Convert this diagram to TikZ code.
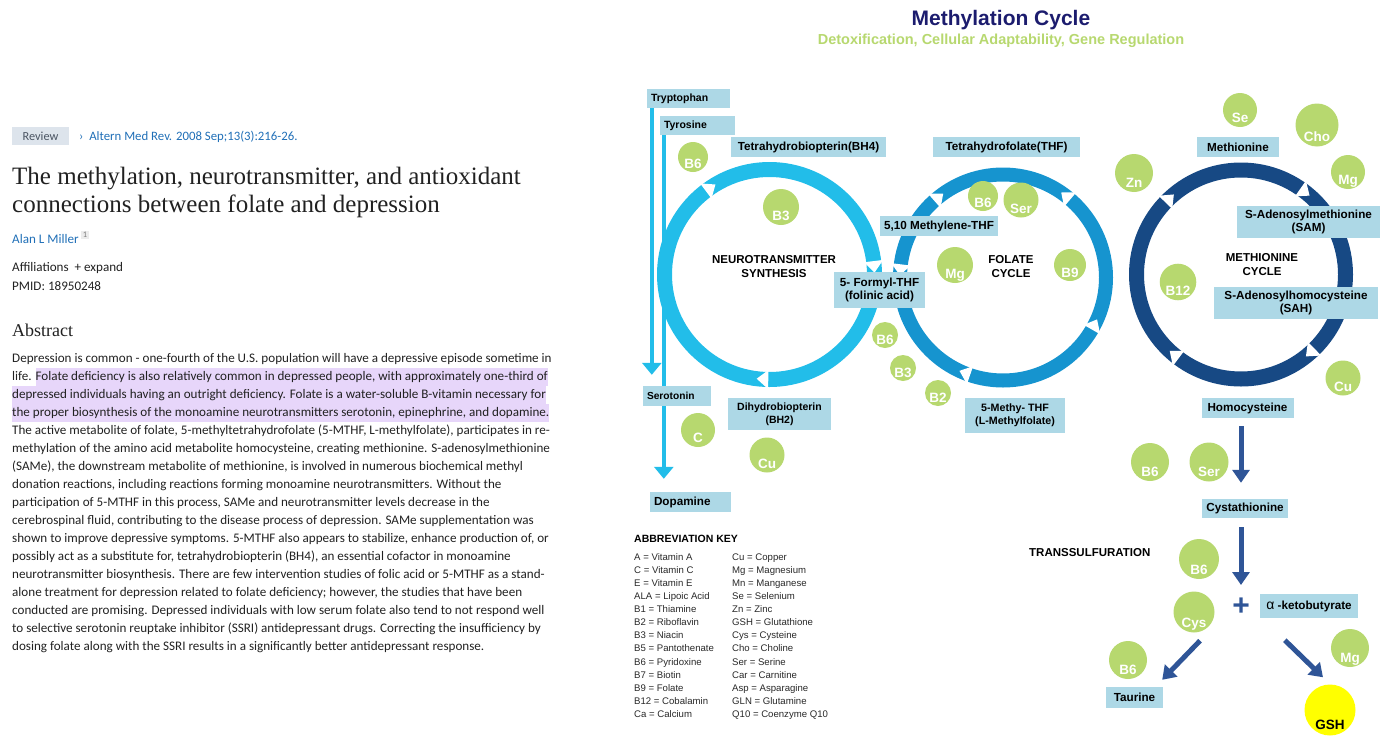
\documentclass[tikz,border=0pt]{standalone}
\usepackage{fontspec}
\setmainfont{Liberation Sans}
\newfontfamily\uifont{Carlito}
\newfontfamily\pmserif{Liberation Serif}
\usetikzlibrary{positioning}
\usetikzlibrary{arrows.meta}
\usetikzlibrary{calc}
\usetikzlibrary{backgrounds}
\definecolor{boxblue}{RGB}{173,216,230}
\definecolor{vgreen}{RGB}{183,216,111}
\definecolor{ntblue}{RGB}{34,189,233}
\definecolor{flblue}{RGB}{22,148,207}
\definecolor{mtblue}{RGB}{23,73,132}
\definecolor{dblue}{RGB}{47,85,151}
\definecolor{navy}{RGB}{28,28,110}
\definecolor{hilite}{RGB}{231,214,250}
\definecolor{linkblue}{RGB}{32,111,183}
\definecolor{revgray}{RGB}{221,228,236}
\definecolor{revtext}{RGB}{75,85,99}
\definecolor{bodytext}{RGB}{33,33,33}
\definecolor{keytext}{RGB}{40,40,40}
\definecolor{supgray}{RGB}{236,236,236}
\definecolor{gshyellow}{RGB}{255,255,0}
\tikzset{
  ui/.style={inner sep=0pt,anchor=base west,text=bodytext,font=\uifont\fontsize{13.1}{15}\selectfont},
  hl/.style={fill=hilite,text height=12pt,text depth=6pt},
  keybox/.style={fill=boxblue,inner sep=0pt,align=center,font=\bfseries\fontsize{11.7}{13.5}\selectfont},
  vit/.style={circle,fill=vgreen,text=white,inner sep=0pt,minimum size=2*#1,
              text height=1.5*#1pt,text depth=0pt,font=\bfseries\fontsize{13.5}{14}\selectfont},
  cyclbl/.style={align=center,inner sep=0pt,font=\bfseries\fontsize{11.5}{14}\selectfont},
  abbr/.style={anchor=base west,inner sep=0pt,text=keytext,font=\fontsize{9.6}{11}\selectfont},
  ntarrow/.style={draw=ntblue,line width=3.5pt,-{Triangle[width=19pt,length=12pt]}},
  sularrow/.style={draw=dblue,line width=5pt,-{Triangle[width=17pt,length=13pt]}}
}
% white tip cut into a ring: centre, angle, radius, direction
\newcommand{\ringtip}[4]{%
  \fill[white] ($(#1)+({#2}:{#3-9})$) -- ($(#1)+({#2}:{#3+9})$) -- ($(#1)+({#2+#4*6}:{#3})$) -- cycle;
  \draw[white,line width=1.2pt] ($(#1)+({#2}:{#3-9})$) -- ($(#1)+({#2}:{#3+9})$);
}

\begin{document}
\begin{tikzpicture}[x=1pt,y=-1pt]
  \useasboundingbox (0,0) rectangle (1392,747);

  % ---------------- article column ----------------
  \node[fill=revgray,text=revtext,font=\uifont\fontsize{12.3}{13}\selectfont,
        minimum width=57pt,minimum height=18pt,inner sep=0pt] (review) at (40.5,136) {Review};
  \node[ui,text=linkblue,font=\uifont\fontsize{12.8}{14}\selectfont] (journal) at (79,140)
    {›\ \ Altern Med Rev. 2008 Sep;13(3):216-26.};

  \node[ui,font=\pmserif\fontsize{25}{28}\selectfont] (title1) at (12,184)
    {The methylation, neurotransmitter, and antioxidant};
  \node[ui,font=\pmserif\fontsize{25}{28}\selectfont] (title2) at (12,212)
    {connections between folate and depression};

  \node[ui,text=linkblue] (author) at (12,243) {Alan L Miller};
  \node[fill=supgray,text=gray,font=\uifont\fontsize{8.5}{8}\selectfont,inner sep=1.5pt] (affnum) at (85,235) {1};
  \node[ui] (affil) at (12,271) {Affiliations\ \ +\ expand};
  \node[ui] (pmid) at (12,290) {PMID: 18950248};

  \node[ui,font=\pmserif\fontsize{18}{20}\selectfont] (abshead) at (12,336) {Abstract};

  % abstract, lines 1-4 (highlighted part)
  \node[ui] (abs1) at (12,362)
    {Depression is common - one-fourth of the U.S. population will have a depressive episode sometime in};
  \node[ui] (abs2) at (12,380) {life.};
  \node[ui,hl,base right=3.5pt of abs2] (abs2b)
    {Folate deficiency is also relatively common in depressed people, with approximately one-third of};
  \node[ui,hl] (abs3) at (12,398)
    {depressed individuals having an outright deficiency. Folate is a water-soluble B-vitamin necessary for};
  \node[ui,hl] (abs4) at (12,416)
    {the proper biosynthesis of the monoamine neurotransmitters serotonin, epinephrine, and dopamine.};
  % abstract, remaining lines
  \foreach \line [count=\i from 5] in {
    {The active metabolite of folate, 5-methyltetrahydrofolate (5-MTHF, L-methylfolate), participates in re-},
    {methylation of the amino acid metabolite homocysteine, creating methionine. S-adenosylmethionine},
    {(SAMe), the downstream metabolite of methionine, is involved in numerous biochemical methyl},
    {donation reactions, including reactions forming monoamine neurotransmitters. Without the},
    {participation of 5-MTHF in this process, SAMe and neurotransmitter levels decrease in the},
    {cerebrospinal fluid, contributing to the disease process of depression. SAMe supplementation was},
    {shown to improve depressive symptoms. 5-MTHF also appears to stabilize, enhance production of, or},
    {possibly act as a substitute for, tetrahydrobiopterin (BH4), an essential cofactor in monoamine},
    {neurotransmitter biosynthesis. There are few intervention studies of folic acid or 5-MTHF as a stand-},
    {alone treatment for depression related to folate deficiency; however, the studies that have been},
    {conducted are promising. Depressed individuals with low serum folate also tend to not respond well},
    {to selective serotonin reuptake inhibitor (SSRI) antidepressant drugs. Correcting the insufficiency by},
    {dosing folate along with the SSRI results in a significantly better antidepressant response.}}
    \node[ui] (abs\i) at (12,{362+18*(\i-1)}) {\line};

  % ---------------- diagram ----------------
  \node[text=navy,font=\bfseries\fontsize{21}{24}\selectfont] (mtitle) at (1001,20) {Methylation Cycle};
  \node[text=vgreen,font=\bfseries\fontsize{14.5}{16}\selectfont] (msub) at (1001,41)
    {Detoxification, Cellular Adaptability, Gene Regulation};

  % rings
  \coordinate (ntc) at (769.5,274.5);
  \coordinate (flc) at (1003,277.5);
  \coordinate (mtc) at (1241,274.5);
  \draw[ntblue,line width=15pt] (ntc) circle[radius=105];
  \draw[flblue,line width=14pt] (flc) circle[radius=103];
  \draw[mtblue,line width=15pt] (mtc) circle[radius=104.5];
  \foreach \a in {-127,-7,91} \ringtip{ntc}{\a}{105}{1};
  \foreach \a/\d in {-131.5/1,-49.6/-1,30/-1,109/1,-173/-1} \ringtip{flc}{\a}{103}{\d};
  \foreach \a in {-136,-55,45.6,127} \ringtip{mtc}{\a}{104.5}{1};

  \node[cyclbl] (ntlbl) at (774,267) {NEUROTRANSMITTER\\SYNTHESIS};
  \node[cyclbl] (fllbl) at (1011,266.5) {FOLATE\\CYCLE};
  \node[cyclbl] (mtlbl) at (1262,264.5) {METHIONINE\\CYCLE};
  \node[cyclbl,anchor=west] (trans) at (1029,553) {TRANSSULFURATION};

  % metabolite boxes
  \node[keybox,text width=75pt,inner xsep=4pt,align=left,minimum height=19pt,
        font=\bfseries\fontsize{10.5}{12}\selectfont] (trp) at (688.5,98.5) {Tryptophan};
  \node[keybox,text width=67pt,inner xsep=4pt,align=left,minimum height=19pt,
        font=\bfseries\fontsize{10.5}{12}\selectfont] (tyr) at (697.5,125.5) {Tyrosine};
  \node[keybox,minimum width=155pt,minimum height=20pt] (bh4) at (808.5,147) {Tetrahydrobiopterin(BH4)};
  \node[keybox,minimum width=147pt,minimum height=20pt] (thf) at (1006.5,147) {Tetrahydrofolate(THF)};
  \node[keybox,minimum width=82pt,minimum height=20pt] (met) at (1238,147) {Methionine};
  \node[keybox,minimum width=118pt,minimum height=20pt] (mthf) at (939,226) {5,10 Methylene-THF};
  \node[keybox,minimum width=91pt,minimum height=36pt] (formyl) at (879.5,290) {5- Formyl-THF\\(folinic acid)};
  \node[keybox,minimum width=143pt,minimum height=32pt] (sam) at (1308.5,222) {S-Adenosylmethionine\\(SAM)};
  \node[keybox,minimum width=164pt,minimum height=32pt] (sah) at (1296,303) {S-Adenosylhomocysteine\\(SAH)};
  \node[keybox,text width=60pt,inner xsep=4pt,align=left,minimum height=20pt,
        font=\bfseries\fontsize{10.2}{12}\selectfont] (sero) at (677,396) {Serotonin};
  \node[keybox,minimum width=103pt,minimum height=32pt,
        font=\bfseries\fontsize{10.5}{13}\selectfont] (bh2) at (779.5,414) {Dihydrobiopterin\\(BH2)};
  \node[keybox,minimum width=100pt,minimum height=35pt,
        font=\bfseries\fontsize{10.7}{13}\selectfont] (mfol) at (1015,415.5) {5-Methy- THF\\(L-Methylfolate)};
  \node[keybox,minimum width=92pt,minimum height=20pt] (hcy) at (1247.5,408) {Homocysteine};
  \node[keybox,text width=73pt,inner xsep=4pt,align=left,minimum height=20pt] (dopa) at (690.5,502) {Dopamine};
  \node[keybox,minimum width=86pt,minimum height=19pt] (cysta) at (1245,508.5) {Cystathionine};
  \node[keybox,minimum width=98pt,minimum height=24pt] (keto) at (1309,606)
    {{\mdseries\fontsize{14}{14}\selectfont α} -ketobutyrate};
  \node[keybox,minimum width=57pt,minimum height=21pt] (taur) at (1134.5,697.5) {Taurine};
  \node[text=dblue,inner sep=0pt,font=\bfseries\fontsize{30}{30}\selectfont] (plus) at (1241,607) {+};

  % cofactors
  \node[vit=15] (ntb6) at (693,157) {B6};
  \node[vit=18] (ntb3) at (781,207) {B3};
  \node[vit=15] (flb6) at (983,196) {B6};
  \node[vit=17.5] (flser) at (1021,200) {Ser};
  \node[vit=18] (flmg) at (955,265) {Mg};
  \node[vit=16] (flb9) at (1070,265) {B9};
  \node[vit=13] (lob6) at (885,335) {B6};
  \node[vit=13] (lob3) at (903,368) {B3};
  \node[vit=13] (lob2) at (938,393) {B2};
  \node[vit=17] (ntvc) at (698,430) {C};
  \node[vit=17.5] (ntcu) at (767,455) {Cu};
  \node[vit=17] (mtse) at (1240,110) {Se};
  \node[vit=21.5] (mtcho) at (1317,125) {Cho};
  \node[vit=19] (mtzn) at (1134,173) {Zn};
  \node[vit=17] (mtmg) at (1348,172) {Mg};
  \node[vit=18] (mtb12) at (1178,282) {B12};
  \node[vit=17.5] (mtcu) at (1343,378) {Cu};
  \node[vit=19] (tsb6) at (1150,462) {B6};
  \node[vit=19.5] (tsser) at (1209,462) {Ser};
  \node[vit=20] (tsb6b) at (1199,559) {B6};
  \node[vit=20.5] (tscys) at (1194,612) {Cys};
  \node[vit=19] (tsb6c) at (1128,660) {B6};
  \node[vit=19] (tsmg) at (1350,648) {Mg};
  \node[vit=25.5,fill=gshyellow,text=black] (gsh) at (1330,710) {GSH};

  % neurotransmitter pathways
  \begin{scope}[on background layer]
    \draw[ntarrow] ($(trp.south west)+(5,0)$) -- ($(sero.north west)+(9,-11)$);
    \draw[ntarrow] ($(tyr.south west)+(4,0)$) -- ($(dopa.north west)+(14,-13)$);
  \end{scope}

  % transsulfuration
  \draw[sularrow] ($(hcy.south)+(-6.5,8)$) -- ($(cysta.north)+(-4,-16)$);
  \draw[sularrow] ($(cysta.south)+(-4,9)$) -- ($(plus.north)+(0,-13)$);
  \draw[sularrow] ($(tscys.south)+(6,8)$) -- ($(taur.north east)+(-1,-7)$);
  \draw[sularrow] ($(keto.south west)+(25,22)$) -- ($(gsh.north)+(-7,-7)$);

  % abbreviation key
  \node[anchor=west,inner sep=0pt,font=\bfseries\fontsize{10.5}{12}\selectfont] (keyhead) at (634,539) {ABBREVIATION KEY};
  \foreach \l/\r [count=\i] in {A = Vitamin A/Cu = Copper, C = Vitamin C/Mg = Magnesium,
      E = Vitamin E/Mn = Manganese, ALA = Lipoic Acid/Se = Selenium, B1 = Thiamine/Zn = Zinc,
      B2 = Riboflavin/GSH = Glutathione, B3 = Niacin/Cys = Cysteine, B5 = Pantothenate/Cho = Choline,
      B6 = Pyridoxine/Ser = Serine, B7 = Biotin/Car = Carnitine, B9 = Folate/Asp = Asparagine,
      B12 = Cobalamin/GLN = Glutamine, Ca = Calcium/Q10 = Coenzyme Q10}{
    \node[abbr] (keyl\i) at (634,{560.2+13.1*(\i-1)}) {\l};
    \node[abbr] (keyr\i) at (732,{560.2+13.1*(\i-1)}) {\r};
  }
\end{tikzpicture}
\end{document}
